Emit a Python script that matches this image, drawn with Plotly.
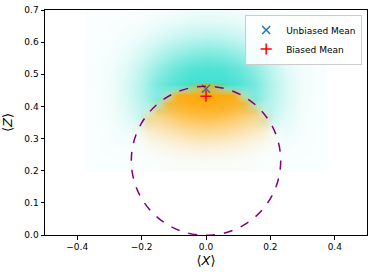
import plotly.graph_objects as go

# ---------------- data ----------------
# unbiased (cyan) density grid: cell centres
cyan_x = [-0.35, -0.30, -0.25, -0.20, -0.15, -0.10, -0.05, 0.0, 0.05, 0.10, 0.15, 0.20, 0.25, 0.30, 0.35]
cyan_y = [0.22, 0.27, 0.32, 0.37, 0.42, 0.47, 0.52, 0.57, 0.62, 0.67, 0.72]
cyan_z = [
    [.03, .03, .03, .03, .03, .03, .03, .03, .03, .03, .03, .03, .03, .03, .03],
    [.03, .04, .05, .03, .03, .03, .03, .03, .03, .03, .03, .03, .05, .04, .03],
    [.03, .05, .09, .05, .03, .03, .03, .03, .03, .03, .03, .05, .10, .05, .03],
    [.03, .06, .14, .30, .10, .04, .03, .03, .03, .04, .10, .32, .15, .06, .03],
    [.03, .07, .18, .38, .65, .30, .10, .10, .10, .30, .66, .40, .20, .07, .03],
    [.04, .08, .18, .40, .70, .90, 1.0, 1.0, 1.0, .92, .72, .42, .20, .08, .04],
    [.04, .07, .15, .32, .55, .75, .88, .92, .90, .80, .60, .35, .16, .07, .04],
    [.03, .05, .10, .20, .35, .50, .60, .65, .62, .52, .38, .22, .11, .05, .03],
    [.02, .04, .06, .10, .18, .26, .32, .35, .33, .27, .19, .11, .06, .04, .02],
    [.02, .03, .04, .05, .08, .11, .14, .15, .14, .12, .08, .05, .04, .03, .02],
    [.02, .02, .02, .03, .03, .04, .05, .05, .05, .04, .03, .03, .02, .02, .02],
]

# biased (orange) density grid: cell centres
orange_x = [-0.21, -0.18, -0.15, -0.12, -0.09, -0.06, -0.03, 0.0, 0.03, 0.06, 0.09, 0.12, 0.15, 0.18, 0.21]
orange_y = [0.21, 0.235, 0.26, 0.285, 0.31, 0.335, 0.36, 0.385, 0.41, 0.435, 0.46]
orange_z = [
    [0.0, .01, .01, .02, .02, .02, .02, .02, .02, .02, .02, .02, .01, .01, 0.0],
    [0.0, .01, .02, .03, .04, .05, .05, .06, .05, .05, .04, .03, .02, .01, 0.0],
    [.01, .03, .05, .07, .09, .10, .11, .12, .11, .10, .09, .07, .05, .03, .01],
    [.02, .07, .11, .14, .17, .19, .21, .22, .21, .19, .17, .14, .11, .07, .02],
    [.04, .14, .19, .24, .28, .32, .35, .36, .35, .32, .28, .24, .19, .14, .04],
    [.05, .24, .30, .36, .42, .47, .50, .52, .50, .47, .42, .36, .30, .24, .05],
    [0.0, .35, .42, .50, .58, .64, .68, .70, .68, .64, .58, .50, .42, .35, 0.0],
    [0.0, .10, .55, .65, .74, .80, .84, .85, .84, .80, .74, .65, .55, .10, 0.0],
    [0.0, 0.0, .12, .78, .86, .92, .95, .95, .95, .92, .86, .78, .12, 0.0, 0.0],
    [0.0, 0.0, 0.0, .15, .90, .97, 1.0, 1.0, 1.0, .97, .90, .15, 0.0, 0.0, 0.0],
    [0.0, 0.0, 0.0, 0.0, 0.0, .10, .45, .85, .45, .10, 0.0, 0.0, 0.0, 0.0, 0.0],
]

unbiased_mean = (0.0, 0.455)
biased_mean = (0.0, 0.432)
circle_center = (0.0, 0.231)
circle_radius = 0.232

x_ticks = [-0.4, -0.2, 0.0, 0.2, 0.4]
y_ticks = [0.0, 0.1, 0.2, 0.3, 0.4, 0.5, 0.6, 0.7]

# ---------------- figure ----------------
fig = go.Figure()

fig.add_trace(go.Heatmap(
    x=cyan_x, y=cyan_y, z=cyan_z, zmin=0, zmax=1, zsmooth="best",
    colorscale=[[0, "rgba(64,224,208,0)"], [1, "rgba(64,224,208,1)"]],
    showscale=False, hoverinfo="skip", showlegend=False,
))
fig.add_trace(go.Heatmap(
    x=orange_x, y=orange_y, z=orange_z, zmin=0, zmax=1, zsmooth="best",
    colorscale=[[0, "rgba(255,165,0,0)"], [1, "rgba(255,165,0,0.96)"]],
    showscale=False, hoverinfo="skip", showlegend=False,
))

fig.add_shape(
    type="circle", xref="x", yref="y",
    x0=circle_center[0] - circle_radius, x1=circle_center[0] + circle_radius,
    y0=circle_center[1] - circle_radius, y1=circle_center[1] + circle_radius,
    line=dict(color="#800080", width=1.5, dash="dash"), layer="above",
)

fig.add_trace(go.Scatter(
    x=[unbiased_mean[0]], y=[unbiased_mean[1]], mode="markers", name="Unbiased Mean",
    marker=dict(symbol="x-thin", size=8, line=dict(color="#1f77b4", width=1.5), color="#1f77b4"),
))
fig.add_trace(go.Scatter(
    x=[biased_mean[0]], y=[biased_mean[1]], mode="markers", name="Biased Mean",
    marker=dict(symbol="cross-thin", size=8, line=dict(color="red", width=1.5), color="red"),
))

axis_common = dict(
    showgrid=False, zeroline=False, showline=True, mirror=True,
    linecolor="black", linewidth=1, ticks="outside", ticklen=3.5,
    tickwidth=0.8, tickcolor="black", automargin=False,
    tickfont=dict(family="DejaVu Sans", size=9, color="black"),
)

fig.update_layout(
    width=374, height=275,
    margin=dict(l=45, r=7, t=10, b=40),
    plot_bgcolor="white", paper_bgcolor="white",
    xaxis=dict(range=[-0.5, 0.5], tickvals=x_ticks, tickformat=".1f",
               title=dict(text="⟨<i>X</i>⟩", font=dict(family="DejaVu Sans", size=13, color="black"), standoff=4),
               **axis_common),
    yaxis=dict(range=[0, 0.7], tickvals=y_ticks, tickformat=".1f",
               title=dict(text="⟨<i>Z</i>⟩", font=dict(family="DejaVu Sans", size=13, color="black"), standoff=8),
               **axis_common),
    legend=dict(x=0.985, y=0.98, xanchor="right", yanchor="top",
                bgcolor="rgba(255,255,255,0.85)", bordercolor="#cccccc", borderwidth=1,
                font=dict(family="DejaVu Sans", size=9, color="black"),
                tracegroupgap=0, itemwidth=30),
    showlegend=True,
)

fig.write_html("out.html", config={"displayModeBar": False},
               post_script="document.body.style.margin='0px';")
